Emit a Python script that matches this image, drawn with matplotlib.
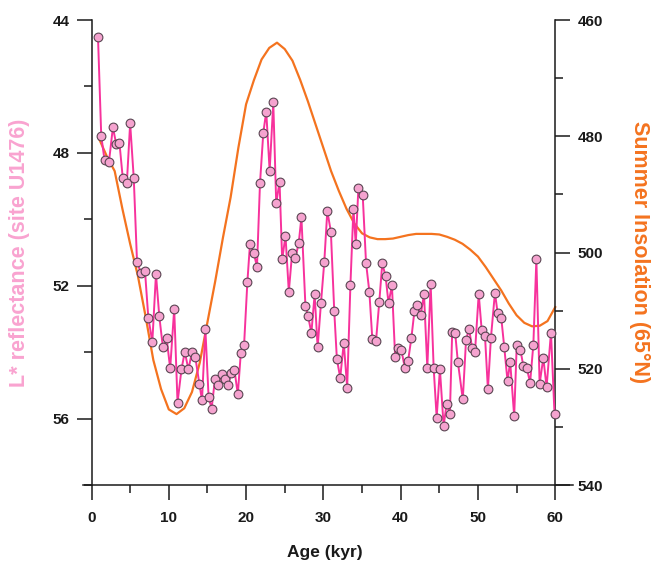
import matplotlib
matplotlib.use("Agg")
import matplotlib.pyplot as plt
from matplotlib.ticker import MultipleLocator

plt.rcParams['font.family'] = ['Liberation Sans', 'DejaVu Sans']
plt.rcParams['font.weight'] = 'bold'

# L* reflectance, site U1476
age_l = [0.84, 1.26, 1.69, 2.25, 2.77, 3.19, 3.62, 4.05, 4.57, 5.0,
         5.47, 5.89, 6.41, 6.92, 7.35, 7.87, 8.34, 8.77, 9.24, 9.71,
         10.18, 10.7, 11.13, 11.64, 12.07, 12.54, 13.01, 13.44, 13.95, 14.3,
         14.73, 15.15, 15.54, 15.97, 16.4, 16.83, 17.21, 17.64, 18.07, 18.5,
         18.93, 19.32, 19.74, 20.17, 20.51, 20.99, 21.41, 21.8, 22.23, 22.61,
         23.05, 23.52, 23.9, 24.33, 24.67, 25.1, 25.53, 25.96, 26.39, 26.82,
         27.16, 27.68, 28.01, 28.45, 28.87, 29.26, 29.69, 30.12, 30.51, 30.97,
         31.41, 31.75, 32.18, 32.64, 33.08, 33.5, 33.89, 34.19, 34.53, 35.09,
         35.52, 35.95, 36.33, 36.81, 37.23, 37.62, 38.05, 38.43, 38.87, 39.29,
         39.68, 40.1, 40.54, 40.96, 41.39, 41.78, 42.16, 42.6, 43.02, 43.45,
         43.88, 44.27, 44.66, 45.08, 45.56, 45.94, 46.37, 46.67, 47.05, 47.4,
         48.04, 48.46, 48.85, 49.24, 49.62, 50.1, 50.48, 50.91, 51.29, 51.68,
         52.2, 52.54, 53.02, 53.4, 53.83, 54.17, 54.69, 55.02, 55.5, 55.88,
         56.31, 56.75, 57.17, 57.56, 57.98, 58.46, 58.88, 59.45, 59.91]
lstar = [44.51, 47.49, 48.22, 48.29, 47.23, 47.73, 47.71, 48.77, 48.92, 47.11,
         48.77, 51.28, 51.63, 51.55, 52.96, 53.69, 51.65, 52.92, 53.86, 53.56,
         54.49, 52.7, 55.52, 54.52, 53.99, 54.52, 53.99, 54.16, 54.95, 55.45,
         53.29, 55.35, 55.7, 54.82, 55.0, 54.67, 54.82, 55.0, 54.64, 54.54,
         55.27, 54.02, 53.79, 51.88, 50.73, 51.01, 51.43, 48.92, 47.39, 46.76,
         48.54, 46.48, 49.52, 48.87, 51.21, 50.5, 52.18, 51.01, 51.16, 50.7,
         49.94, 52.61, 52.9, 53.42, 52.26, 53.86, 52.52, 51.28, 49.75, 50.37,
         52.77, 54.21, 54.77, 53.72, 55.07, 51.98, 49.68, 50.75, 49.07, 49.27,
         51.31, 52.18, 53.59, 53.67, 52.5, 51.33, 51.71, 52.53, 51.99, 54.16,
         53.89, 53.94, 54.47, 54.27, 53.57, 52.77, 52.58, 52.88, 52.25, 54.47,
         51.94, 54.47, 55.97, 54.51, 56.22, 55.57, 55.85, 53.39, 53.41, 54.29,
         55.42, 53.64, 53.29, 53.87, 53.99, 52.25, 53.32, 53.5, 55.12, 53.57,
         52.21, 52.81, 52.97, 53.84, 54.87, 54.29, 55.93, 53.78, 53.94, 54.42,
         54.47, 54.92, 53.77, 51.21, 54.96, 54.17, 55.06, 53.41, 55.87]

# summer insolation 65N
age_ins = list(range(1, 61))
insol = [480.5, 483.5, 486.0, 492.5, 498.5, 504.0, 511.0, 518.5, 523.5, 527.0,
         527.8, 526.8, 524.0, 519.0, 512.0, 505.0, 497.5, 490.5, 482.0, 474.5,
         470.4, 466.8, 464.8, 463.9, 465.0, 467.0, 470.3, 474.0, 478.0, 482.0,
         486.0, 489.4, 492.5, 495.0, 496.7, 497.4, 497.7, 497.7, 497.6, 497.3,
         497.0, 496.8, 496.8, 496.8, 496.9, 497.3, 497.8, 498.5, 499.5, 500.7,
         502.5, 504.5, 506.5, 508.8, 510.8, 512.1, 512.7, 512.6, 511.8, 509.4]

PINK_LINE = '#F7329C'
PINK_FILL = '#F5A3CF'
PINK_TEXT = '#F9A3D0'
ORANGE = '#F4731F'
AXC = '#1a1a1a'

fig = plt.figure(figsize=(6.51, 5.62), dpi=100)
ax = fig.add_axes([83 / 651, 77 / 562, 490 / 651, 465 / 562])
ax2 = ax.twinx()

# pink on top of orange
ax.set_zorder(ax2.get_zorder() + 1)
ax.patch.set_visible(False)

ax2.plot(age_ins, insol, color=ORANGE, lw=1.6)
ax.plot(age_l, lstar, color=PINK_LINE, lw=1.4, marker='o', ms=6.3,
        mfc=PINK_FILL, mec='#5a4552', mew=0.8)

ax.set_xlim(-1.1, 62.3)
ax.set_ylim(58, 44)
ax2.set_ylim(540, 460)

# spines
ax.spines['top'].set_visible(False)
ax.spines['right'].set_visible(False)
ax.spines['left'].set_position(('data', 0))
for s in ['top', 'left', 'bottom']:
    ax2.spines[s].set_visible(False)
ax2.spines['right'].set_position(('data', 60))
for a in [ax, ax2]:
    for s in a.spines.values():
        s.set_linewidth(1.1)
        s.set_color(AXC)

ax.xaxis.set_major_locator(MultipleLocator(10))
ax.xaxis.set_minor_locator(MultipleLocator(5))
ax.yaxis.set_major_locator(MultipleLocator(4))
ax.yaxis.set_minor_locator(MultipleLocator(2))
ax2.yaxis.set_major_locator(MultipleLocator(20))
ax2.yaxis.set_minor_locator(MultipleLocator(10))

ax.tick_params(axis='both', which='major', direction='out', length=11, width=1.1,
               color=AXC, labelsize=11, labelcolor=AXC)
ax.tick_params(axis='both', which='minor', direction='out', length=5.5, width=1.1, color=AXC)
ax.tick_params(axis='x', which='major', pad=8)
ax.tick_params(axis='y', which='major', pad=5)
ax2.tick_params(axis='y', which='major', direction='out', length=11, width=1.1,
                color=AXC, labelsize=11, labelcolor=AXC, pad=5)
ax2.tick_params(axis='y', which='minor', direction='out', length=5.5, width=1.1, color=AXC)
for lab in ax.get_xticklabels() + ax.get_yticklabels() + ax2.get_yticklabels():
    lab.set_fontweight('bold')

ax.set_xlabel('Age (kyr)', fontsize=12.5, fontweight='bold', color=AXC, va='center')
ax.xaxis.set_label_coords(242 / 490, -67 / 465)
ax.set_ylabel('L* reflectance (site U1476)', fontsize=15.5, fontweight='bold',
              color=PINK_TEXT, va='center', ha='center')
ax.yaxis.set_label_coords(-63 / 490, 0.5)
ax2.set_ylabel('Summer Insolation (65°N)', fontsize=15.5, fontweight='bold',
               color=ORANGE, rotation=270, va='center', ha='center')
ax2.yaxis.set_label_coords(557 / 490, 0.5)

plt.savefig('out.png', dpi=100)
